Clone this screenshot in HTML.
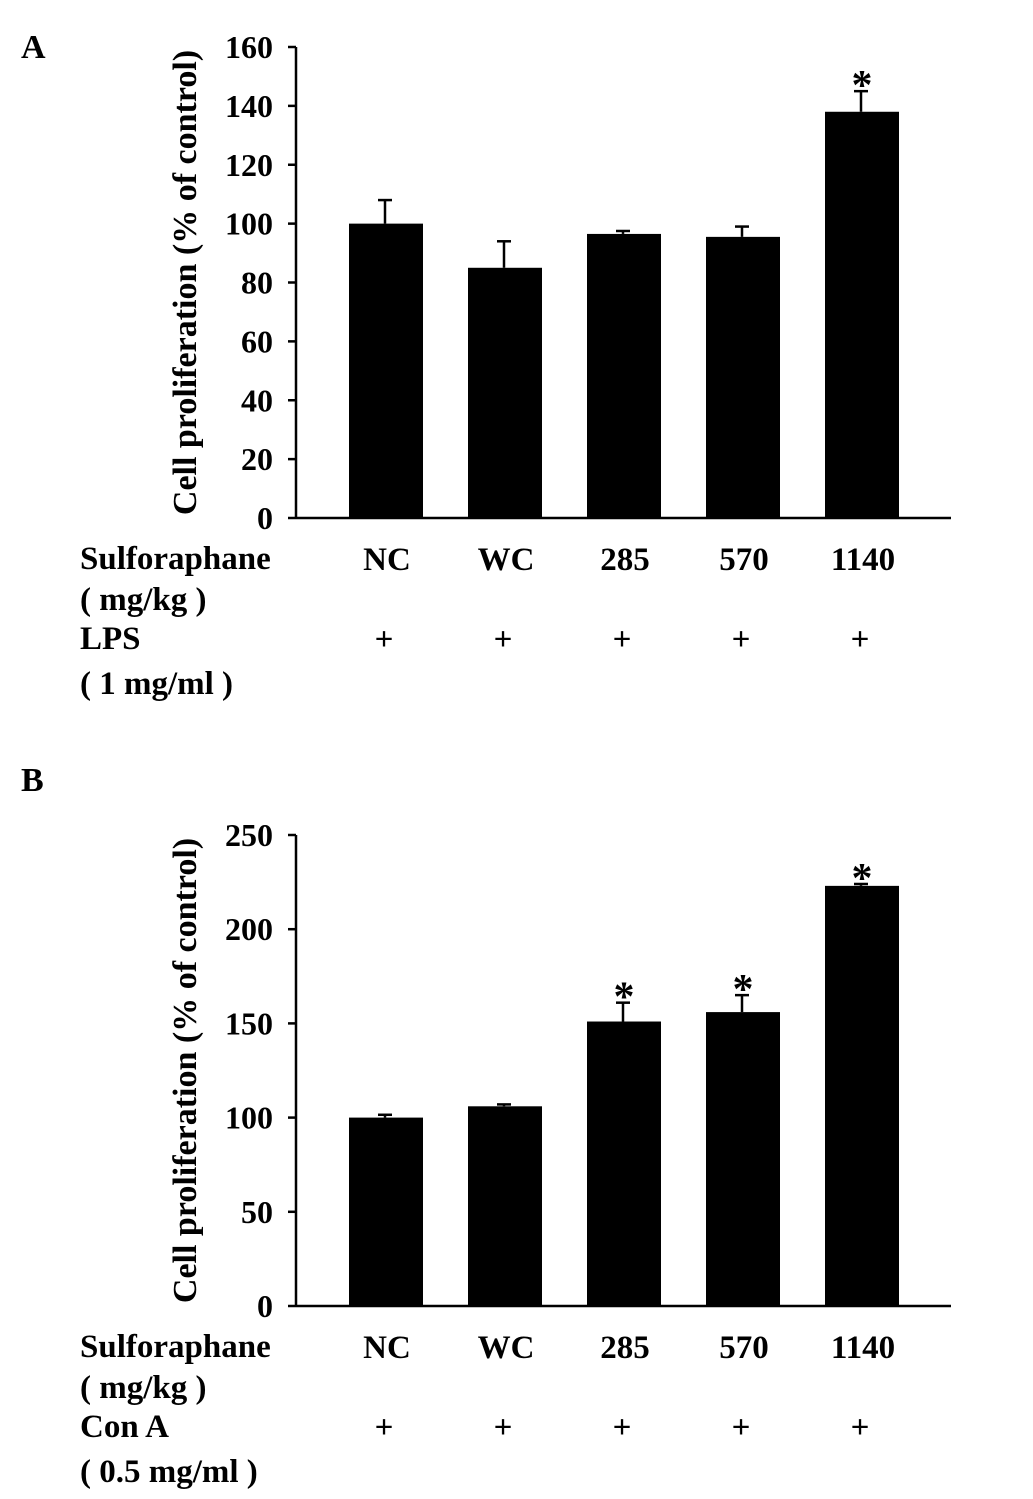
<!DOCTYPE html>
<html><head><meta charset="utf-8"><style>
html,body{margin:0;padding:0;background:#fff;}
svg text{font-family:"Liberation Serif",serif;font-weight:bold;fill:#000;}
</style></head><body>
<svg id="chart" width="1033" height="1494" xmlns="http://www.w3.org/2000/svg">
<text x="21" y="58" font-size="34">A</text>
<text x="21" y="791" font-size="34">B</text>
</svg>
<script>
const categories = ["NC","WC","285","570","1140"];
const valuesA = [100, 85, 96.5, 95.5, 138];
const errorsA = [8, 9, 1, 3.5, 7];
const sigA = [false,false,false,false,true];
const ticksA = [0,20,40,60,80,100,120,140,160];
const valuesB = [100, 106, 151, 156, 223];
const errorsB = [1.5, 1, 10, 9, 1];
const sigB = [false,false,true,true,true];
const ticksB = [0,50,100,150,200,250];

const NS = "http://www.w3.org/2000/svg";
const svg = document.getElementById('chart');
function mk(tag, attrs, parent){
  const e = document.createElementNS(NS, tag);
  for (const k in attrs) e.setAttribute(k, attrs[k]);
  (parent||svg).appendChild(e);
  return e;
}
function panel(id, y0, values, errors, sig, ticks, stimName, stimDose){
  const g = mk('g', {});
  
  
  const axX = 296, top = y0 - 471, max = ticks[ticks.length-1];
  const yS = v => y0 - v / max * 471;
  const xS = i => 385 + i * 119;
  const barW = 74;
  values.forEach((v, i) => {
    const x = xS(i);
    const eTop = yS(v + errors[i]);
    const el = mk('line', {x1:x, x2:x, y1:yS(v), y2:eTop, stroke:'#000','stroke-width':2.5}, g);
    
    
    const cap = mk('line', {x1:x-7, x2:x+7, y1:eTop, y2:eTop, stroke:'#000','stroke-width':2.5}, g);
    
    
    const b = mk('rect', {x:x-barW/2+1, y:yS(v), width:barW, height:y0-yS(v), fill:'#000'}, g);
    
    
    if (sig[i]) {
      const s = mk('text', {x:x+1, y:eTop+8, 'font-size':42, 'text-anchor':'middle'}, g);
      s.textContent = '*';
      
      
    }
    const c = mk('text', {x:x+2, y:y0+52, 'font-size':33, 'text-anchor':'middle'}, g);
    c.textContent = categories[i];
    
    
    const p = mk('text', {x:x-1, y:y0+132, 'font-size':33, 'text-anchor':'middle'}, g);
    p.textContent = '+';
    
    
  });
  const ya = mk('line', {x1:axX, x2:axX, y1:top, y2:y0+1, stroke:'#000','stroke-width':2.5}, g);
  
  
  const xa = mk('line', {x1:axX, x2:951, y1:y0, y2:y0, stroke:'#000','stroke-width':2.5}, g);
  
  
  ticks.forEach(t => {
    const tl = mk('line', {x1:axX-8, x2:axX, y1:yS(t), y2:yS(t), stroke:'#000','stroke-width':2.5}, g);
    
    
    const tt = mk('text', {x:273, y:yS(t)+11, 'font-size':32, 'text-anchor':'end'}, g);
    tt.textContent = t;
    
    
  });
  const yt = mk('text', {x:0, y:0, 'font-size':34, 'text-anchor':'middle', transform:`translate(196,${(top+y0)/2}) rotate(-90)`}, g);
  yt.textContent = 'Cell proliferation (% of control)';
  
  
  const rows = [['Sulforaphane',51,'row-label-sulforaphane'],['( mg/kg )',92,'row-label-dose'],[stimName,131,'row-label-stimulant'],[stimDose,176,'row-label-stimulant-dose']];
  rows.forEach(r => {
    const t = mk('text', {x:80, y:y0+r[1], 'font-size':33}, g);
    t.textContent = r[0];
    
    
  });
}
panel('a', 518, valuesA, errorsA, sigA, ticksA, 'LPS', '( 1 mg/ml )');
panel('b', 1306, valuesB, errorsB, sigB, ticksB, 'Con A', '( 0.5 mg/ml )');
</script>
</body></html>
